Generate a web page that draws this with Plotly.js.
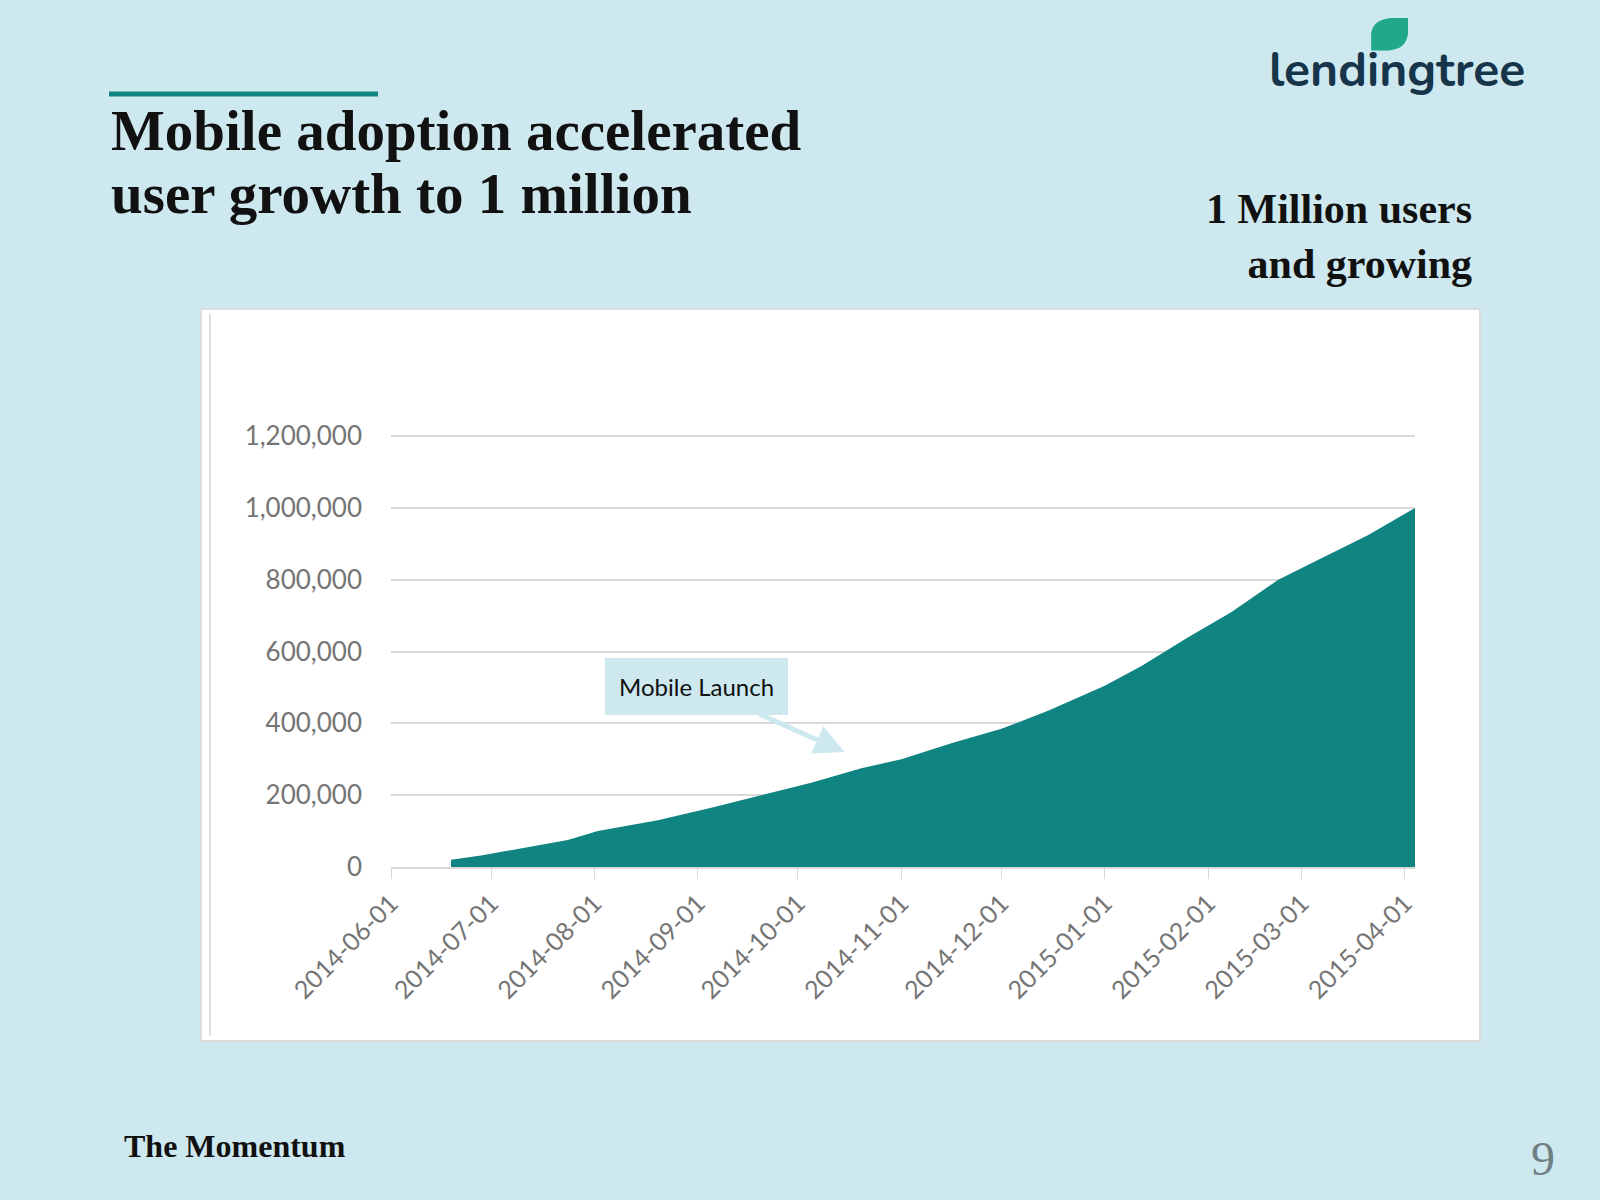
<!DOCTYPE html>
<html>
<head>
<meta charset="utf-8">
<script src="https://cdn.plot.ly/plotly-3.0.1.min.js"></script>
<style>html,body{margin:0;padding:0;background:#cde9ef;}</style>
</head>
<body>
<div id="chart" style="width:1600px;height:1200px;"></div>
<script>
// users over time
const fechas = ['2014-06-19', '2014-06-28', '2014-07-24', '2014-08-02', '2014-08-20', '2014-09-05',
  '2014-09-20', '2014-10-05', '2014-10-20', '2014-11-01', '2014-11-16', '2014-12-01', '2014-12-15',
  '2015-01-01', '2015-01-12', '2015-01-26', '2015-02-08', '2015-02-22', '2015-03-08', '2015-03-21', '2015-04-04'];
const usuarios = [20000, 32000, 75000, 100000, 130000, 165000, 200000, 235000, 275000, 300000, 345000,
  385000, 435000, 505000, 560000, 640000, 710000, 800000, 865000, 925000, 1000000];
const ticksY = [0, 200000, 400000, 600000, 800000, 1000000, 1200000];

const serif = '"Liberation Serif", "DejaVu Serif", serif';

const traza = {
  type: 'scatter',
  x: fechas,
  y: usuarios,
  mode: 'lines',
  line: { width: 0, color: '#108481' },
  fill: 'tozeroy',
  fillcolor: '#108481',
  hoverinfo: 'skip',
};

const layout = {
  width: 1600, height: 1200,
  margin: { t: 0, r: 0, b: 0, l: 0 },
  paper_bgcolor: '#cde9ef',
  plot_bgcolor: 'white',
  showlegend: false,
  font: { family: 'Lato, sans-serif', color: '#757575' },
  xaxis: {
    type: 'date',
    domain: [391 / 1600, 1415 / 1600],
    range: ['2014-06-01', '2015-04-04'],
    tick0: '2014-06-01', dtick: 'M1',
    tickformat: '%Y-%m-%d',
    tickangle: -45,
    ticks: 'outside', ticklen: 10, tickcolor: '#d9d9d9',
    showgrid: false,
    showline: true, linecolor: '#d9d9d9', linewidth: 2,
    tickfont: { size: 25, color: '#757575' },
  },
  yaxis: {
    domain: [1 - 867 / 1200, 1 - 434 / 1200],
    range: [0, 1206000],
    tickvals: ticksY,
    tickformat: ',d',
    gridcolor: '#d9d9d9', gridwidth: 2,
    zeroline: false,
    tickfont: { size: 26, color: '#757575' },
    ticklabelstandoff: 28,
  },
  shapes: [
    // white chart panel
    { type: 'rect', xref: 'paper', yref: 'paper', x0: 201 / 1600, x1: 1480 / 1600, y0: 1 - 1041 / 1200, y1: 1 - 309 / 1200,
      fillcolor: 'white', line: { color: '#dcdcdc', width: 2 }, layer: 'below' },
    { type: 'line', xref: 'paper', yref: 'paper', x0: 210 / 1600, x1: 210 / 1600, y0: 1 - 1036 / 1200, y1: 1 - 314 / 1200,
      line: { color: '#e0e0e0', width: 2 } },
    // teal bar above title
    { type: 'line', xref: 'paper', yref: 'paper', x0: 109 / 1600, x1: 378 / 1600, y0: 1 - 94 / 1200, y1: 1 - 94 / 1200,
      line: { color: '#108481', width: 5 } },
    // logo leaf
    { type: 'path', xref: 'paper', yref: 'paper',
      path: 'M 0.857 0.958 L 0.857 0.972 Q 0.858 0.984 0.87 0.985 L 0.88 0.985 L 0.88 0.972 Q 0.879 0.959 0.868 0.958 Z',
      fillcolor: '#1fa98a', line: { width: 0 } },
  ],
  annotations: [
    { xref: 'paper', yref: 'paper', x: 109 / 1600, y: 1 - 131 / 1200, xanchor: 'left', yanchor: 'middle',
      text: '<b>Mobile adoption accelerated</b>',
      font: { family: serif, size: 57, color: '#111' }, showarrow: false },
    { xref: 'paper', yref: 'paper', x: 109 / 1600, y: 1 - 194 / 1200, xanchor: 'left', yanchor: 'middle',
      text: '<b>user growth to 1 million</b>',
      font: { family: serif, size: 57, color: '#111' }, showarrow: false },
    { xref: 'paper', yref: 'paper', x: 1474 / 1600, y: 1 - 184 / 1200, xanchor: 'right', yanchor: 'top', align: 'right',
      text: '<b>1 Million users<br>and growing</b>',
      font: { family: serif, size: 42, color: '#111' }, showarrow: false },
    { xref: 'paper', yref: 'paper', x: 122 / 1600, y: 1 - 1146 / 1200, xanchor: 'left', yanchor: 'middle',
      text: '<b>The Momentum</b>', font: { family: serif, size: 32, color: '#111' }, showarrow: false },
    { xref: 'paper', yref: 'paper', x: 1543 / 1600, y: 1 - 1158 / 1200, xanchor: 'center', yanchor: 'middle',
      text: '9', font: { family: serif, size: 48, color: '#6f7f84' }, showarrow: false },
    { xref: 'paper', yref: 'paper', x: 1527 / 1600, y: 1 - 70 / 1200, xanchor: 'right', yanchor: 'middle',
      text: '<b>lendingtree</b>', font: { family: 'Nunito, "Open Sans", sans-serif', size: 48, color: '#16344a' }, showarrow: false },
    { xref: 'x', yref: 'y', x: '2014-10-15', y: 320000, ax: -148, ay: -66,
      text: 'Mobile Launch', font: { family: 'Lato, sans-serif', size: 24, color: '#111' },
      bgcolor: '#cde9ef', borderpad: 13, bordercolor: '#cde9ef',
      showarrow: true, arrowhead: 2, arrowsize: 1.2, arrowwidth: 5, arrowcolor: '#cde9ef', standoff: 0 },
  ],
};

Plotly.newPlot('chart', [traza], layout, { displayModeBar: false, staticPlot: true });
</script>
</body>
</html>
